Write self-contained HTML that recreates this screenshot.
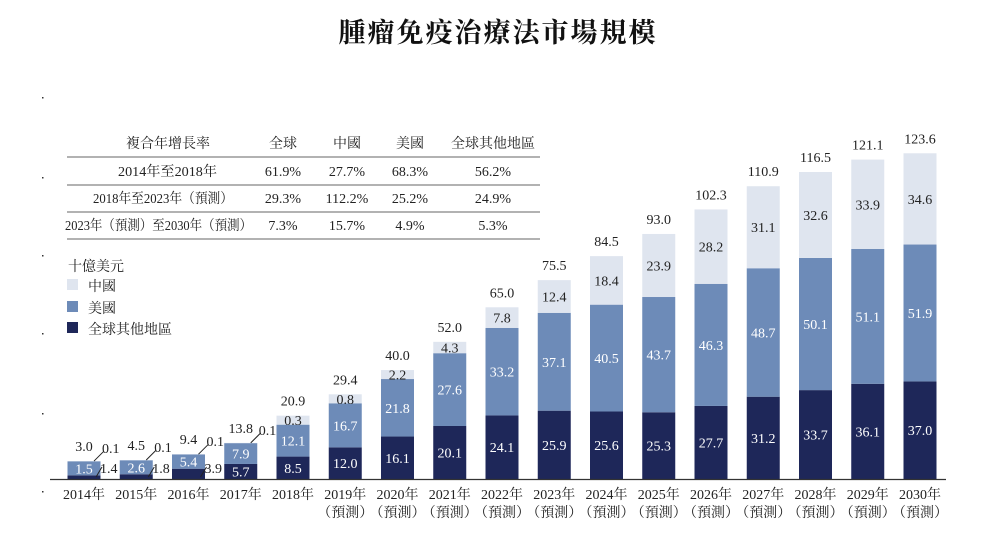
<!DOCTYPE html>
<html><head><meta charset="utf-8">
<style>
body{margin:0;background:#fff;}
svg text{font-family:"Liberation Serif","Noto Serif CJK SC","Noto Sans CJK TC",serif;}
</style></head>
<body>
<svg id="chart" width="996" height="535" viewBox="0 0 996 535" xmlns="http://www.w3.org/2000/svg">
<text x="498" y="42" text-anchor="middle" font-size="27" font-weight="bold" fill="#111" letter-spacing="2">腫瘤免疫治療法市場規模</text>
<g font-size="14" fill="#222">
<text x="168" y="148" text-anchor="middle">複合年增長率</text>
<text x="283" y="148" text-anchor="middle">全球</text>
<text x="347" y="148" text-anchor="middle">中國</text>
<text x="410" y="148" text-anchor="middle">美國</text>
<text x="493" y="148" text-anchor="middle">全球其他地區</text>
<line x1="67" y1="157" x2="540" y2="157" stroke="#999" stroke-width="1.5"/>
<text x="118" y="176" textLength="99" lengthAdjust="spacingAndGlyphs">2014年至2018年</text>
<text x="283" y="176" text-anchor="middle">61.9%</text><text x="347" y="176" text-anchor="middle">27.7%</text><text x="410" y="176" text-anchor="middle">68.3%</text><text x="493" y="176" text-anchor="middle">56.2%</text>
<line x1="67" y1="185" x2="540" y2="185" stroke="#999" stroke-width="1.5"/>
<text x="93" y="203" textLength="140" lengthAdjust="spacingAndGlyphs">2018年至2023年（預測）</text>
<text x="283" y="203" text-anchor="middle">29.3%</text><text x="347" y="203" text-anchor="middle">112.2%</text><text x="410" y="203" text-anchor="middle">25.2%</text><text x="493" y="203" text-anchor="middle">24.9%</text>
<line x1="67" y1="212" x2="540" y2="212" stroke="#999" stroke-width="1.5"/>
<text x="65" y="230" textLength="187" lengthAdjust="spacingAndGlyphs">2023年（預測）至2030年（預測）</text>
<text x="283" y="230" text-anchor="middle">7.3%</text><text x="347" y="230" text-anchor="middle">15.7%</text><text x="410" y="230" text-anchor="middle">4.9%</text><text x="493" y="230" text-anchor="middle">5.3%</text>
<line x1="67" y1="239" x2="540" y2="239" stroke="#999" stroke-width="1.5"/>
</g>
<g font-size="14" fill="#222">
<text x="68" y="271">十億美元</text>
<rect x="67" y="279" width="11" height="11" fill="#dfe5ef"/>
<text x="88" y="291">中國</text>
<rect x="67" y="301" width="11" height="11" fill="#6d8bb8"/>
<text x="88" y="313">美國</text>
<rect x="67" y="322" width="11" height="11" fill="#1e2759"/>
<text x="88" y="334">全球其他地區</text>
</g>
<g id="dots" fill="#333">
<rect x="42" y="97" width="1.5" height="1.5"/><rect x="42" y="177" width="1.5" height="1.5"/><rect x="42" y="255" width="1.5" height="1.5"/><rect x="42" y="333" width="1.5" height="1.5"/><rect x="42" y="413" width="1.5" height="1.5"/><rect x="42" y="491" width="1.5" height="1.5"/>
</g>
<g id="bars"></g>
<line x1="50" y1="479.5" x2="946" y2="479.5" stroke="#333" stroke-width="1.2"/>
</svg>
<script>
const years = ["2014年","2015年","2016年","2017年","2018年","2019年","2020年","2021年","2022年","2023年","2024年","2025年","2026年","2027年","2028年","2029年","2030年"];
const forecast = [0,0,0,0,0,1,1,1,1,1,1,1,1,1,1,1,1];
const restOfWorld = [1.4,1.8,3.9,5.7,8.5,12.0,16.1,20.1,24.1,25.9,25.6,25.3,27.7,31.2,33.7,36.1,37.0];
const usa = [1.5,2.6,5.4,7.9,12.1,16.7,21.8,27.6,33.2,37.1,40.5,43.7,46.3,48.7,50.1,51.1,51.9];
const china = [0.1,0.1,0.1,0.1,0.3,0.8,2.2,4.3,7.8,12.4,18.4,23.9,28.2,31.1,32.6,33.9,34.6];
const totals = [3.0,4.5,9.4,13.8,20.9,29.4,40.0,52.0,65.0,75.5,84.5,93.0,102.3,110.9,116.5,121.1,123.6];

const NS="http://www.w3.org/2000/svg";
const base=479, k=326/123.6, x0=84, step=52.25, bw=33;
const xc=i=>x0+i*step;
const hh=v=>v*k;
const g=document.getElementById('bars');
function mk(t,a){const e=document.createElementNS(NS,t);for(const n in a)e.setAttribute(n,a[n]);g.appendChild(e);return e;}
function txt(x,y,s,fill,anchor){const e=mk('text',{x:x,y:y,'font-size':14,fill:fill,'text-anchor':anchor||'middle'});e.textContent=s;return e;}
years.forEach((yr,i)=>{
  const cx=xc(i), l=cx-bw/2;
  const hR=hh(restOfWorld[i]);
  const hU=Math.max(hh(usa[i]),14);
  let hC=hh(china[i]); if(china[i]>=0.3&&hC<9)hC=9;
  const yR=base-hR, yU=yR-hU, yC=yU-hC;
  const r1=mk('rect',{x:l,y:yR,width:bw,height:hR,fill:'#1e2759'});
  
  
  const r2=mk('rect',{x:l,y:yU,width:bw,height:hU,fill:'#6d8bb8'});
  
  
  const r3=mk('rect',{x:l,y:yC,width:bw,height:hC,fill:'#dfe5ef'});
  
  
  const f=v=>v.toFixed(1);
  txt(cx,yU+hU/2+5,f(usa[i]),'#fff');
  if(hR>=14){txt(cx,yR+hR/2+5,f(restOfWorld[i]),'#fff');}
  else{
    mk('line',{x1:cx+12,y1:base-2,x2:cx+18,y2:base-12,stroke:'#222','stroke-width':1});
    txt(cx+16,base-6,f(restOfWorld[i]),'#222','start');
  }
  if(hC>=9){txt(cx,yC+hC/2+5,f(china[i]),'#222');}
  else{
    mk('line',{x1:cx+10,y1:yC,x2:cx+20,y2:yC-10,stroke:'#222','stroke-width':1});
    txt(cx+18,yC-8,f(china[i]),'#222','start');
  }
  const tl=txt(cx,yC-10,f(totals[i]),'#222');
  
  
  const xl=txt(cx,499,yr,'#222');
  
  
  if(forecast[i]) txt(cx,517,'（預測）','#222');
});
</script>
</body></html>
